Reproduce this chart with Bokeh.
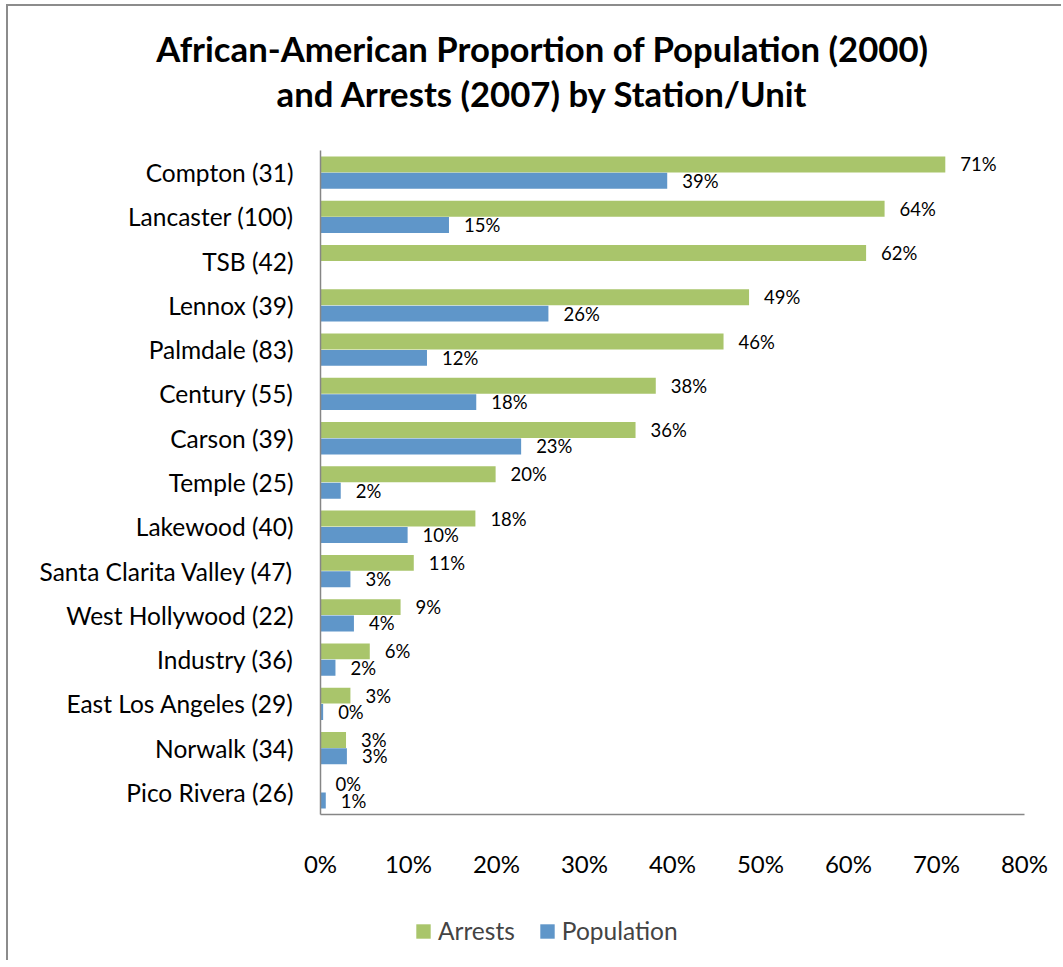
from bokeh.plotting import figure
from bokeh.layouts import column
from bokeh.models import ColumnDataSource, FactorRange, Range1d, Legend, LegendItem, FixedTicker
from bokeh.transform import dodge
from bokeh.core.properties import value
from bokeh.embed import file_html
from bokeh.resources import INLINE
import math

# ---- data ----
stations = ["Compton (31)", "Lancaster (100)", "TSB (42)", "Lennox (39)", "Palmdale (83)",
            "Century (55)", "Carson (39)", "Temple (25)", "Lakewood (40)",
            "Santa Clarita Valley (47)", "West Hollywood (22)", "Industry (36)",
            "East Los Angeles (29)", "Norwalk (34)", "Pico Rivera (26)"]
arrests = [71.0, 64.1, 62.0, 48.7, 45.8, 38.1, 35.8, 19.9, 17.6, 10.6, 9.1, 5.6, 3.4, 2.9, 0.0]
population = [39.4, 14.6, float("nan"), 25.9, 12.1, 17.7, 22.8, 2.3, 9.9, 3.4, 3.8, 1.7, 0.3, 3.0, 0.6]
x_ticks = [0, 10, 20, 30, 40, 50, 60, 70, 80]
x_tick_labels = ["0%", "10%", "20%", "30%", "40%", "50%", "60%", "70%", "80%"]
title_lines = ["African-American Proportion of Population (2000)",
               "and Arrests (2007) by Station/Unit"]
series_names = ["Arrests", "Population"]

GREEN = "#A9C56B"
BLUE = "#5F96C9"
FONT = "Lato"
W = 1053


def fmt(v):
    if v is None or (isinstance(v, float) and math.isnan(v)):
        return ""
    return "%d%%" % int(math.floor(v + 0.5))


def bare(fig):
    fig.axis.visible = False
    fig.grid.visible = False
    fig.outline_line_color = None
    fig.background_fill_color = "white"
    fig.border_fill_color = "white"
    fig.min_border = 0
    if "frame_align" in fig.properties():
        fig.frame_align = False


# ---- title figure ----
pt = figure(width=W, height=144, x_range=Range1d(0, W), y_range=Range1d(144, 0),
            output_backend="svg", toolbar_location=None)
bare(pt)
pt.text(x=[534, 534], y=[42, 87], text=title_lines,
        text_align="center", text_baseline="middle",
        text_font=value(FONT), text_font_style="bold",
        text_font_size=value("34.7px"), text_color="black")

# ---- main figure ----
src = ColumnDataSource(dict(
    station=stations,
    arrests=arrests,
    population=population,
    arrests_lbl=[fmt(v) for v in arrests],
    pop_lbl=[fmt(v) for v in population],
))

p = figure(width=W, height=730,
           y_range=FactorRange(factors=list(reversed(stations))),
           x_range=Range1d(0, 80),
           output_backend="svg", toolbar_location=None,
           min_border_left=312, min_border_right=37,
           min_border_top=0, min_border_bottom=60)
p.outline_line_color = None
p.xgrid.visible = False
p.ygrid.visible = False
p.background_fill_color = "white"
p.border_fill_color = "white"

OFF = 0.185
H = 0.36
r_a = p.hbar(y=dodge("station", OFF, range=p.y_range), left=0, right="arrests", height=H,
             fill_color=GREEN, line_color=None, source=src)
r_p = p.hbar(y=dodge("station", -OFF, range=p.y_range), left=0, right="population", height=H,
             fill_color=BLUE, line_color=None, source=src)

p.text(x="arrests", y=dodge("station", OFF, range=p.y_range), text="arrests_lbl",
       x_offset=15, text_align="left", text_baseline="middle",
       text_font=value(FONT), text_font_size=value("18.5px"), text_color="black", source=src)
p.text(x="population", y=dodge("station", -OFF, range=p.y_range), text="pop_lbl",
       x_offset=15, text_align="left", text_baseline="middle",
       text_font=value(FONT), text_font_size=value("18.5px"), text_color="black", source=src)

xa = p.xaxis[0]
xa.ticker = FixedTicker(ticks=x_ticks)
xa.major_label_overrides = {t: l for t, l in zip(x_ticks, x_tick_labels)}
xa.major_tick_line_color = None
xa.minor_tick_line_color = None
xa.axis_line_color = "#868686"
xa.axis_line_width = 1.5
xa.major_label_standoff = 28
xa.major_label_text_font = FONT
xa.major_label_text_font_size = "24px"
xa.major_label_text_color = "black"

ya = p.yaxis[0]
ya.major_tick_line_color = None
ya.minor_tick_line_color = None
ya.axis_line_color = "#868686"
ya.axis_line_width = 1.5
ya.major_label_standoff = 21
ya.major_label_text_font = FONT
ya.major_label_text_font_size = "24.5px"
ya.major_label_text_color = "black"

# ---- legend figure ----
pl = figure(width=W, height=80, x_range=Range1d(0, 1), y_range=Range1d(0, 1),
            output_backend="svg", toolbar_location=None)
bare(pl)
nan = float("nan")
la = pl.hbar(y=[nan], right=[nan], height=0.5, fill_color=GREEN, line_color=None)
lp = pl.hbar(y=[nan], right=[nan], height=0.5, fill_color=BLUE, line_color=None)
legend = Legend(items=[LegendItem(label=series_names[0], renderers=[la]),
                       LegendItem(label=series_names[1], renderers=[lp])],
                orientation="horizontal", location=(406, 15),
                padding=0, margin=0, spacing=23, label_standoff=6,
                glyph_width=18, glyph_height=18,
                label_text_font=FONT, label_text_font_size="24.5px",
                border_line_color=None, background_fill_alpha=0)
pl.add_layout(legend, "center")

layout = column(pt, p, pl, spacing=0)
layout.styles = {"margin-left": "6px", "margin-top": "4px",
                 "border-top": "2px solid #8c8c8c", "border-left": "2px solid #8c8c8c"}

open("out.html", "w").write(file_html(layout, INLINE))
